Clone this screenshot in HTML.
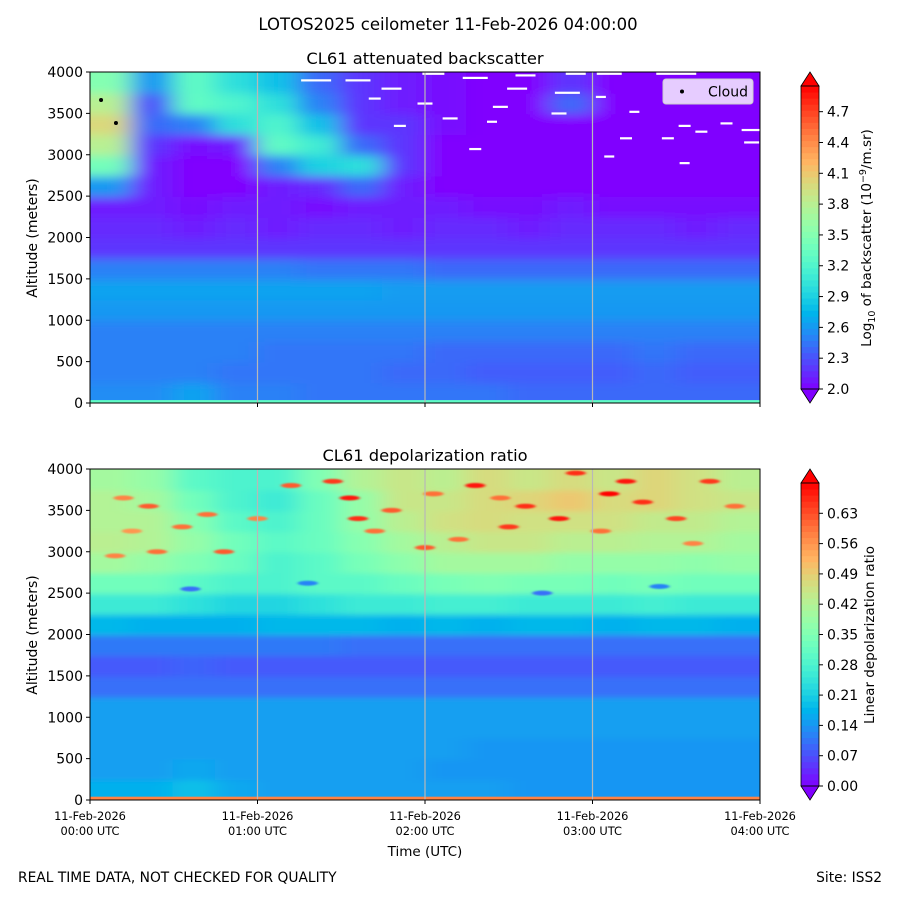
<!DOCTYPE html>
<html><head><meta charset="utf-8">
<style>
html,body{margin:0;padding:0;background:#fff;}
svg{display:block;font-family:"DejaVu Sans","Liberation Sans",sans-serif;}
</style></head>
<body>
<svg id="fig" width="900" height="900" viewBox="0 0 900 900" xmlns="http://www.w3.org/2000/svg">
<defs>
<filter id="blurT" x="-10%" y="-10%" width="120%" height="120%"><feGaussianBlur stdDeviation="12 5"/></filter>
<filter id="blurB" x="-10%" y="-10%" width="120%" height="120%"><feGaussianBlur stdDeviation="12 3"/></filter>
<filter id="blurS" x="-20%" y="-50%" width="140%" height="200%"><feGaussianBlur stdDeviation="1.5 0.8"/></filter>
<clipPath id="clipT"><rect x="90" y="72" width="670" height="331"/></clipPath>
<clipPath id="clipB"><rect x="90" y="469" width="670" height="331"/></clipPath>
</defs>
<text x="448" y="30" font-size="16.5" text-anchor="middle">LOTOS2025 ceilometer 11-Feb-2026 04:00:00</text>
<g id="top"></g>
<g id="bot"></g>
<text x="425" y="856" font-size="13.5" text-anchor="middle">Time (UTC)</text>
<text x="18" y="882" font-size="13.8">REAL TIME DATA, NOT CHECKED FOR QUALITY</text>
<text x="882" y="882" font-size="13.8" text-anchor="end">Site: ISS2</text>
</svg>
<script>
// ---- data ----
const hours = [0,1,2,3,4];
const hourLabels = ["00:00 UTC","01:00 UTC","02:00 UTC","03:00 UTC","04:00 UTC"];
const altTicks = [0,500,1000,1500,2000,2500,3000,3500,4000];
const nCols = 16; // 15-min columns
const rowStep = 250; // m
// backscatter log10, rows from bottom (0-250m) to top (3750-4000m)
const bsRows = [
"2.55,2.55,2.65,2.5,2.5,2.45,2.45,2.45,2.45,2.45,2.4,2.4,2.4,2.4,2.4,2.4",
"2.5,2.5,2.5,2.45,2.45,2.45,2.45,2.4,2.4,2.35,2.35,2.35,2.35,2.4,2.35,2.35",
"2.5,2.5,2.5,2.5,2.45,2.45,2.45,2.45,2.4,2.4,2.4,2.4,2.4,2.45,2.4,2.4",
"2.5,2.5,2.5,2.5,2.5,2.5,2.5,2.5,2.5,2.5,2.5,2.5,2.5,2.5,2.5,2.5",
"2.6,2.6,2.6,2.6,2.6,2.6,2.6,2.6,2.6,2.6,2.6,2.6,2.6,2.6,2.6,2.6",
"2.65,2.65,2.65,2.65,2.65,2.65,2.65,2.62,2.62,2.62,2.62,2.62,2.62,2.62,2.62,2.62",
"2.5,2.5,2.5,2.5,2.5,2.45,2.45,2.45,2.4,2.4,2.4,2.4,2.4,2.4,2.4,2.4",
"2.2,2.2,2.2,2.2,2.2,2.2,2.2,2.2,2.2,2.2,2.2,2.2,2.2,2.2,2.2,2.2",
"2.15,2.15,2.1,2.15,2.1,2.15,2.15,2.1,2.15,2.15,2.1,2.15,2.15,2.15,2.1,2.15",
"2.1,2.1,2.05,2.1,2.1,2.05,2.1,2.1,2.1,2.05,2.05,2.1,2.05,2.05,2.05,2.05",
"2.6,2.1,2.0,2.0,2.1,2.15,2.4,2.1,2.0,2.0,2.0,2.0,2.0,2.0,2.0,2.0",
"3.4,2.1,2.0,2.0,2.5,2.9,3.0,2.2,2.0,2.0,2.0,2.0,2.0,2.0,2.0,2.0",
"3.8,2.2,2.05,2.1,3.3,3.1,2.4,2.2,2.0,2.0,2.0,2.0,2.0,2.0,2.0,2.0",
"4.0,2.4,2.5,3.0,3.2,2.8,2.2,2.2,2.05,2.0,2.0,2.0,2.0,2.0,2.0,2.0",
"3.8,2.3,3.3,3.2,3.0,2.5,2.2,2.1,2.05,2.0,2.0,2.4,2.0,2.0,2.0,2.0",
"3.5,2.6,3.3,3.0,2.8,2.4,2.2,2.1,2.05,2.0,2.0,2.2,2.0,2.0,2.0,2.0"
];
// depolarization ratio rows, bottom to top
const dpRows = [
"0.17,0.17,0.19,0.16,0.15,0.15,0.15,0.15,0.15,0.15,0.14,0.14,0.14,0.14,0.14,0.14",
"0.15,0.15,0.16,0.15,0.15,0.15,0.15,0.15,0.14,0.14,0.14,0.14,0.14,0.14,0.14,0.14",
"0.15,0.15,0.15,0.15,0.15,0.15,0.15,0.15,0.15,0.14,0.14,0.14,0.14,0.14,0.14,0.14",
"0.15,0.15,0.15,0.15,0.15,0.15,0.15,0.15,0.15,0.15,0.15,0.15,0.15,0.15,0.15,0.15",
"0.15,0.15,0.15,0.15,0.15,0.15,0.15,0.15,0.15,0.15,0.15,0.15,0.15,0.15,0.15,0.15",
"0.10,0.10,0.10,0.10,0.10,0.10,0.10,0.10,0.10,0.10,0.10,0.10,0.10,0.10,0.10,0.10",
"0.08,0.08,0.09,0.08,0.08,0.08,0.08,0.08,0.08,0.08,0.08,0.08,0.08,0.08,0.08,0.08",
"0.11,0.11,0.11,0.11,0.11,0.11,0.10,0.10,0.10,0.10,0.10,0.10,0.10,0.10,0.10,0.10",
"0.18,0.17,0.17,0.17,0.18,0.18,0.18,0.17,0.18,0.17,0.18,0.18,0.17,0.18,0.18,0.17",
"0.26,0.26,0.24,0.22,0.22,0.24,0.26,0.26,0.27,0.27,0.26,0.26,0.26,0.27,0.26,0.26",
"0.33,0.33,0.30,0.28,0.28,0.30,0.30,0.32,0.34,0.35,0.34,0.34,0.33,0.34,0.33,0.33",
"0.40,0.38,0.35,0.32,0.28,0.30,0.34,0.37,0.40,0.40,0.40,0.38,0.38,0.38,0.37,0.38",
"0.43,0.42,0.38,0.33,0.30,0.32,0.36,0.40,0.43,0.45,0.45,0.43,0.43,0.42,0.42,0.40",
"0.42,0.42,0.36,0.30,0.28,0.32,0.38,0.43,0.46,0.47,0.46,0.46,0.46,0.44,0.44,0.42",
"0.42,0.40,0.33,0.28,0.26,0.32,0.38,0.45,0.45,0.47,0.48,0.50,0.47,0.48,0.46,0.45",
"0.40,0.38,0.30,0.28,0.28,0.35,0.42,0.45,0.43,0.47,0.45,0.47,0.45,0.48,0.46,0.43"
];
// depol speckles [hour, altitude m, value]
const dpSpeckT = [0.35,0.4,0.8,1.45,1.55,1.6,1.8,2.0,2.3,2.5,2.6,2.8,2.9,3.05,3.1,3.2,3.3,3.5,3.7,0.25,1.0,2.2,0.6,1.3,2.7,3.4,0.2,0.55,2.05,3.6,0.7,1.2,2.45,3.85,0.15,1.7];
const dpSpeckA = [3550,3000,3000,3850,3650,3400,3500,3050,3800,3300,3550,3400,3950,3250,3700,3850,3600,3400,3850,3250,3400,3150,2550,2620,2500,2580,3650,3300,3700,3100,3450,3800,3650,3550,2950,3250];
const dpSpeckV = [0.62,0.6,0.62,0.65,0.68,0.66,0.62,0.62,0.68,0.65,0.66,0.68,0.66,0.6,0.70,0.68,0.66,0.64,0.65,0.56,0.58,0.6,0.1,0.12,0.1,0.12,0.58,0.6,0.6,0.58,0.6,0.62,0.6,0.6,0.58,0.6];
// NaN gaps in backscatter [hour, altitude m, width px]
const gapT = [1.35,1.6,1.8,1.7,2.05,2.3,2.6,2.9,3.1,3.5,1.85,2.0,2.4,2.45,2.55,2.15,2.3,2.85,3.05,3.25,3.2,3.45,3.55,3.8,3.65,3.95,3.95,3.1,3.55,2.8];
const gapA = [3900,3900,3800,3680,3980,3930,3960,3980,3980,3980,3350,3620,3400,3580,3800,3440,3070,3750,3700,3520,3200,3200,3350,3380,3280,3300,3150,2980,2900,3500];
const gapW = [30,25,20,12,22,25,20,20,25,40,12,15,10,15,20,15,12,25,10,10,12,12,12,12,12,20,15,10,10,15];
// cloud base points
const cloudT = [0.066,0.155];
const cloudA = [3662,3384];
const bsTicks = [2.0,2.3,2.6,2.9,3.2,3.5,3.8,4.1,4.4,4.7];
const dpTicks = [0.00,0.07,0.14,0.21,0.28,0.35,0.42,0.49,0.56,0.63];

// ---- helpers ----
const NS="http://www.w3.org/2000/svg";
function mk(tag,attrs,parent){const e=document.createElementNS(NS,tag);for(const k in attrs)e.setAttribute(k,attrs[k]);if(parent)parent.appendChild(e);return e;}
const X0=90,X1=760;
const xScale=h=>X0+(X1-X0)*h/4;
function rainbow(x){x=Math.max(0,Math.min(1,x));
 const r=Math.min(1,Math.abs(2*x-0.5)),g=Math.sin(Math.PI*x),b=Math.cos(Math.PI*x/2);
 return `rgb(${Math.round(r*255)},${Math.round(g*255)},${Math.round(b*255)})`;}

function panel(gid,top,rows,vmin,vmax,blurId,clipId){
 const g=document.getElementById(gid);
 const bot=top+331;
 const yScale=a=>bot-331*a/4000;
 const norm=v=>(v-vmin)/(vmax-vmin);
 const cg=mk('g',{'clip-path':`url(#${clipId})`},g);
 const hm=mk('g',{filter:`url(#${blurId})`},cg);
 
 
 const cw=(X1-X0)/nCols;
 const nR=rows.length;
 rows.forEach((rs,ri)=>{
  const vals=rs.split(',').map(Number);
  vals.forEach((v,ci)=>{
   const a0=ri*rowStep;
   let x=xScale(ci*4/nCols)-1,w=cw+2;
   let y=yScale(a0+rowStep)-1,h=yScale(a0)-yScale(a0+rowStep)+2;
   if(ci===0){x-=40;w+=40;}
   if(ci===vals.length-1){w+=40;}
   if(ri===0){h+=30;}
   if(ri===nR-1){y-=30;h+=30;}
   const c=mk('rect',{x:x,y:y,width:w,height:h,fill:rainbow(norm(v))},hm);
   
   
  });
 });
 return {g,cg,hm,yScale,norm,bot};
}

function axes(P,top,title,ticks,vmin,vmax,tickFmt,showX){
 const g=P.g,bot=P.bot,yScale=P.yScale;
 hours.forEach((h,i)=>{ if(i>0&&i<4){const l=mk('line',{x1:xScale(h),x2:xScale(h),y1:top,y2:bot,stroke:'#b8b8b8','stroke-width':1.2},g);
  }});
 const fr=mk('rect',{x:X0,y:top,width:X1-X0,height:331,fill:'none',stroke:'#000','stroke-width':1},g);
 
 const t=mk('text',{x:425,y:top-8,'font-size':16.3,'text-anchor':'middle'},g);t.textContent=title;
 
 altTicks.forEach(a=>{const y=yScale(a);mk('line',{x1:X0-4,x2:X0,y1:y,y2:y,stroke:'#000'},g);
  const tx=mk('text',{x:X0-7,y:y+5,'font-size':14,'text-anchor':'end'},g);tx.textContent=a;
  });
 const yl=mk('text',{transform:`translate(37,${top+166}) rotate(-90)`,'font-size':14,'text-anchor':'middle'},g);yl.textContent='Altitude (meters)';
 
 hours.forEach((h,i)=>{const x=xScale(h);mk('line',{x1:x,x2:x,y1:bot,y2:bot+4,stroke:'#000'},g);
  if(showX){const a=mk('text',{x:x,y:bot+20,'font-size':11.4,'text-anchor':'middle'},g);a.textContent='11-Feb-2026';
   
   const b=mk('text',{x:x,y:bot+35,'font-size':11.4,'text-anchor':'middle'},g);b.textContent=hourLabels[i];
   }});
 const cx=801,cwid=18,cTop=top+14,cBot=bot-14;
 const cb=mk('g',{},g);
 const N=50;
 for(let i=0;i<N;i++){const y=cBot-(cBot-cTop)*(i+1)/N;
  mk('rect',{x:cx,y:y,width:cwid,height:(cBot-cTop)/N+0.5,fill:rainbow((i+0.5)/N)},cb);}
 mk('polygon',{points:`${cx},${cTop} ${cx+cwid/2},${top} ${cx+cwid},${cTop}`,fill:rainbow(1),stroke:'#000','stroke-width':0.8},cb);
 mk('polygon',{points:`${cx},${cBot} ${cx+cwid/2},${bot} ${cx+cwid},${cBot}`,fill:rainbow(0),stroke:'#000','stroke-width':0.8},cb);
 mk('rect',{x:cx,y:cTop,width:cwid,height:cBot-cTop,fill:'none',stroke:'#000','stroke-width':0.8},cb);
 const span=(cBot-cTop);
 ticks.forEach(v=>{const y=cBot-span*(v-vmin)/(vmax-vmin);
  mk('line',{x1:cx+cwid,x2:cx+cwid+4,y1:y,y2:y,stroke:'#000'},cb);
  const tx=mk('text',{x:cx+cwid+8,y:y+5,'font-size':14},cb);tx.textContent=tickFmt(v);
  });
 return cb;
}

// ---- top panel ----
const T=panel('top',72,bsRows,2.0,4.95,'blurT','clipT');
const sb=mk('rect',{x:X0,y:T.yScale(35),width:670,height:T.yScale(0)-T.yScale(35),fill:rainbow(T.norm(3.3))},T.cg);

gapT.forEach((t,i)=>{const r=mk('rect',{x:xScale(t)-gapW[i]/2,y:T.yScale(gapA[i])-1,width:gapW[i],height:2.2,fill:'#fff'},T.cg);
 });
cloudT.forEach((t,i)=>{const c=mk('circle',{cx:xScale(t),cy:T.yScale(cloudA[i]),r:2,fill:'#000'},T.g);
 });
axes(T,72,'CL61 attenuated backscatter',bsTicks,2.0,4.95,v=>v.toFixed(1),false);
const lt=mk('text',{transform:'translate(871,238) rotate(-90)','font-size':13.5,'text-anchor':'middle'},T.g);
lt.innerHTML='Log<tspan font-size="9.5" dy="4">10</tspan><tspan dy="-4"> of backscatter (10</tspan><tspan font-size="9.5" dy="-5">−9</tspan><tspan dy="5">/m.sr)</tspan>';

const lg=mk('g',{},T.g);
mk('rect',{x:663,y:79,width:90,height:25,rx:3,fill:'rgba(255,255,255,0.8)',stroke:'#ccc'},lg);
mk('circle',{cx:682,cy:91.5,r:2,fill:'#000'},lg);
const lgt=mk('text',{x:708,y:96.5,'font-size':14},lg);lgt.textContent='Cloud';


// ---- bottom panel ----
const B=panel('bot',469,dpRows,0,0.70,'blurB','clipB');
const spG=mk('g',{filter:'url(#blurS)'},B.cg);


dpSpeckT.forEach((t,i)=>{const e=mk('ellipse',{cx:xScale(t),cy:B.yScale(dpSpeckA[i]),rx:10,ry:2.5,fill:rainbow(B.norm(dpSpeckV[i]))},spG);
 });
const sb2=mk('rect',{x:X0,y:B.yScale(40),width:670,height:B.yScale(0)-B.yScale(40),fill:rainbow(B.norm(0.58))},B.cg);

axes(B,469,'CL61 depolarization ratio',dpTicks,0,0.70,v=>v.toFixed(2),true);
const lb=mk('text',{transform:'translate(874,635) rotate(-90)','font-size':13.5,'text-anchor':'middle'},B.g);
lb.textContent='Linear depolarization ratio';

</script>
</body></html>
